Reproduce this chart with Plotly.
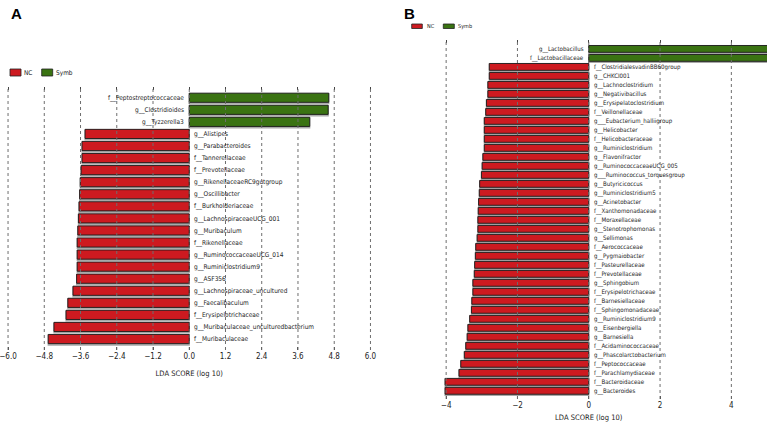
import plotly.graph_objects as go

W, H = 767, 422

# ---------------- Panel A data ----------------
a_symb_labels = ["f__Peptostreptococcaceae", "g__Clostridioides", "g__Tyzzerella3"]
a_symb_values = [4.62, 4.60, 3.99]
a_nc_labels = [
    "g__Alistipes", "g__Parabacteroides", "f__Tannerellaceae", "f__Prevotellaceae",
    "g__RikenellaceaeRC9gutgroup", "g__Oscillibacter", "f__Burkholderiaceae",
    "g__LachnospiraceaeUCG_001", "g__Muribaculum", "f__Rikenellaceae",
    "g__RuminococcaceaeUCG_014", "g__Ruminiclostridium9", "g__ASF356",
    "g__Lachnospiraceae_uncultured", "g__Faecalibaculum", "f__Erysipelotrichaceae",
    "g__Muribaculaceae_unculturedbacterium", "f__Muribaculaceae",
]
a_nc_values = [-3.45, -3.55, -3.55, -3.58, -3.61, -3.63, -3.65, -3.67, -3.69, -3.71,
               -3.71, -3.71, -3.73, -3.85, -4.02, -4.08, -4.48, -4.67]
a_ticks = [-6.0, -4.8, -3.6, -2.4, -1.2, 0.0, 1.2, 2.4, 3.6, 4.8, 6.0]

# ---------------- Panel B data ----------------
b_symb_labels = ["g__Lactobacillus", "f__Lactobacillaceae"]
b_symb_values = [5.05, 5.05]
b_nc_labels = [
    "f__ClostridialesvadinBB60group", "g__CHKCI001", "g__Lachnoclostridium",
    "g__Negativibacillus", "g__Erysipelatoclostridium", "f__Veillonellaceae",
    "g___Eubacterium_halliigroup", "g__Helicobacter", "f__Helicobacteraceae",
    "g__Ruminiclostridium", "g__Flavonifractor", "g__RuminococcaceaeUCG_005",
    "g___Ruminococcus_torquesgroup", "g__Butyricicoccus", "g__Ruminiclostridium5",
    "g__Acinetobacter", "f__Xanthomonadaceae", "f__Moraxellaceae",
    "g__Stenotrophomonas", "g__Sellimonas", "f__Aerococcaceae", "g__Pygmaiobacter",
    "f__Pasteurellaceae", "f__Prevotellaceae", "g__Sphingobium",
    "f__Erysipelotrichaceae", "f__Barnesiellaceae", "f__Sphingomonadaceae",
    "g__Ruminiclostridium9", "g__Eisenbergiella", "g__Barnesiella",
    "f__Acidaminococcaceae", "g__Phascolarctobacterium", "f__Peptococcaceae",
    "f__Parachlamydiaceae", "f__Bacteroidaceae", "g__Bacteroides",
]
b_nc_values = [-2.79, -2.79, -2.83, -2.83, -2.87, -2.89, -2.93, -2.93, -2.93, -2.93,
               -2.97, -2.99, -3.01, -3.06, -3.07, -3.09, -3.10, -3.11, -3.11, -3.13,
               -3.17, -3.18, -3.20, -3.21, -3.25, -3.25, -3.28, -3.29, -3.34, -3.39,
               -3.41, -3.45, -3.49, -3.59, -3.64, -4.03, -4.03]
b_ticks = [-4, -2, 0, 2, 4]

RED = "#CD1A20"
GREEN = "#3A7312"
SHADOW = "#a8a8a8"
GRID = "#6e6e6e"
NARROW = "'DejaVu Sans Condensed', 'DejaVu Sans', sans-serif"


def px(x):
    return x / W


def py(y):
    return 1 - y / H


fig = go.Figure()


def add_panel(xa, ya, symb_labels, symb_values, nc_labels, nc_values, lab_size, ticks):
    for labels, values, color, name in [(symb_labels, symb_values, GREEN, "Symb"),
                                        (nc_labels, nc_values, RED, "NC")]:
        # shadow
        fig.add_trace(go.Bar(
            y=labels, x=values, orientation="h", xaxis=xa, yaxis=ya,
            marker=dict(color=SHADOW, line=dict(color=SHADOW, width=1.2)),
            width=0.82, offset=-0.33, showlegend=False, hoverinfo="skip",
        ))
        fig.add_trace(go.Bar(
            y=labels, x=values, orientation="h", xaxis=xa, yaxis=ya, name=name,
            marker=dict(color=color, line=dict(color="#1a1a1a", width=0.9)),
            width=0.76, offset=-0.39, showlegend=False,
        ))
    # dotted grid lines drawn over the bars, at the tick positions
    for t in ticks:
        fig.add_shape(type="line", xref=xa, yref=f"{ya} domain", x0=t, x1=t, y0=0, y1=1,
                      layer="above", line=dict(color=GRID, width=1, dash="dot"))
    for lab in symb_labels:
        fig.add_annotation(x=0, y=lab, xref=xa, yref=ya, text=lab, showarrow=False,
                           xanchor="right", yanchor="middle", xshift=-3,
                           font=dict(family=NARROW, size=lab_size, color="#1e1e1e"))
    for lab in nc_labels:
        fig.add_annotation(x=0, y=lab, xref=xa, yref=ya, text=lab, showarrow=False,
                           xanchor="left", yanchor="middle", xshift=3,
                           font=dict(family=NARROW, size=lab_size, color="#1e1e1e"))


add_panel("x", "y", a_symb_labels, a_symb_values, a_nc_labels, a_nc_values, 6.5, a_ticks)
add_panel("x2", "y2", b_symb_labels, b_symb_values, b_nc_labels, b_nc_values, 6.1, b_ticks)

a_cats = a_symb_labels + a_nc_labels
b_cats = b_symb_labels + b_nc_labels

axis_common = dict(
    showgrid=False, zeroline=False, showline=False, ticks="inside", ticklen=3,
    tickcolor="#444", mirror="ticks", ticklabeloverflow="allow", automargin=False,
    tickfont=dict(family=NARROW, size=8, color="#222"),
)

fig.update_layout(
    width=W, height=H, margin=dict(l=0, r=0, t=0, b=0, autoexpand=False),
    paper_bgcolor="white", plot_bgcolor="white", barmode="overlay",
    xaxis=dict(domain=[px(2), px(376.5)], range=[-6.2, 6.2], tickmode="array",
               tickvals=a_ticks, ticktext=[f"{t:.1f}".replace("-", "\u2212") for t in a_ticks],
               title=dict(text="LDA SCORE (log 10)", standoff=10,
                          font=dict(family=NARROW, size=7.5, color="#222")),
               anchor="y", **axis_common),
    yaxis=dict(domain=[py(350), py(87)], type="category", categoryorder="array",
               categoryarray=a_cats, range=[len(a_cats) - 1 + 0.9, -0.9],
               showticklabels=False, showgrid=False, zeroline=False, anchor="x",
               automargin=False),
    xaxis2=dict(domain=[px(410.5), 1.0], range=[-5, 5], tickmode="array",
                tickvals=b_ticks,
                title=dict(text="LDA SCORE (log 10)", standoff=5,
                           font=dict(family=NARROW, size=7.5, color="#222")),
                anchor="y2", **axis_common),
    yaxis2=dict(domain=[py(399), py(40)], type="category", categoryorder="array",
                categoryarray=b_cats, range=[len(b_cats) - 1 + 0.9, -1.0],
                showticklabels=False, showgrid=False, zeroline=False, anchor="x2",
                automargin=False),
)

# panel letters
fig.add_annotation(x=px(9), y=py(3), xref="paper", yref="paper", text="<b>A</b>",
                   showarrow=False, xanchor="left", yanchor="top",
                   font=dict(family="Liberation Sans, Arial, sans-serif", size=15, color="black"))
fig.add_annotation(x=px(402), y=py(3), xref="paper", yref="paper", text="<b>B</b>",
                   showarrow=False, xanchor="left", yanchor="top",
                   font=dict(family="Liberation Sans, Arial, sans-serif", size=15, color="black"))

# legends (drawn as keys)
def legend_key(x0, x1, y0, y1, color, label, tx, size):
    fig.add_shape(type="rect", xref="paper", yref="paper", x0=px(x0), x1=px(x1),
                  y0=py(y1), y1=py(y0), fillcolor=color, line=dict(color="#222", width=0.8))
    fig.add_annotation(x=px(tx), y=py((y0 + y1) / 2), xref="paper", yref="paper",
                       text=label, showarrow=False, xanchor="left", yanchor="middle",
                       font=dict(family=NARROW, size=size, color="#222"))

legend_key(10, 21, 69, 76, RED, "NC", 22, 6.5)
legend_key(41.7, 52.7, 69, 76, GREEN, "Symb", 53.5, 6.5)
legend_key(411.7, 422.3, 24, 28.5, RED, "NC", 424.5, 5.5)
legend_key(443.3, 454.3, 24, 28.5, GREEN, "Symb", 456, 5.5)

fig.write_html("out.html", post_script="document.body.style.margin='0';",
               config={"displayModeBar": False})
